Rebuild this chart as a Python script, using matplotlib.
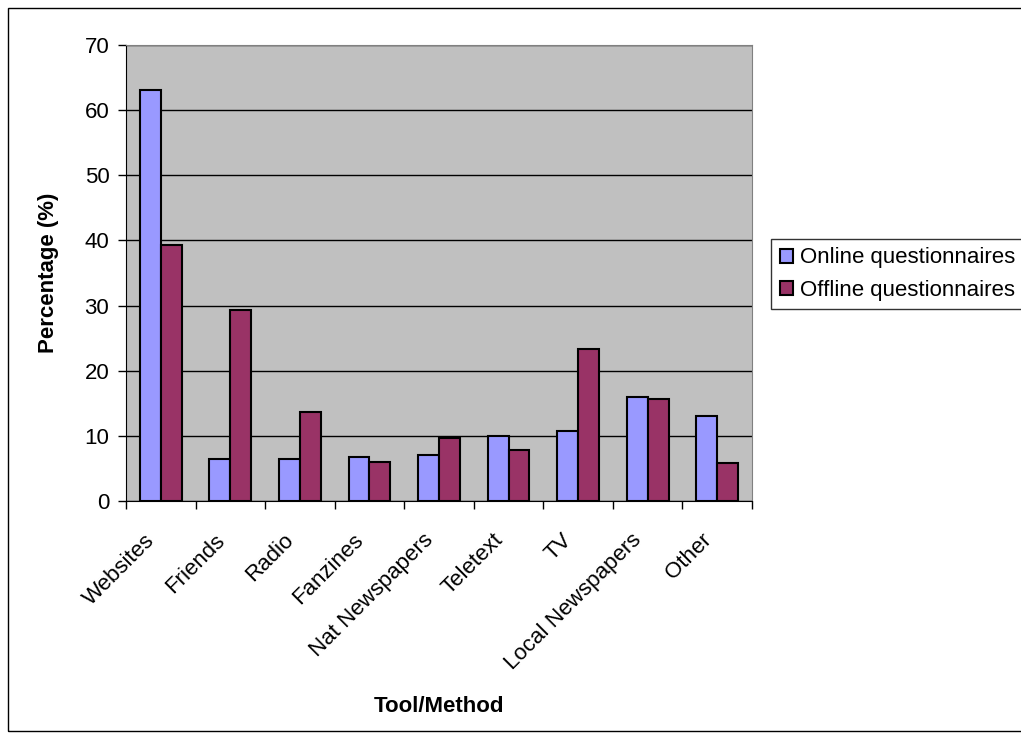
import matplotlib
matplotlib.use("Agg")
import matplotlib.pyplot as plt
import matplotlib.transforms as mtransforms
import numpy as np

CATEGORIES = ["Websites", "Friends", "Radio", "Fanzines", "Nat Newspapers",
              "Teletext", "TV", "Local Newspapers", "Other"]
ONLINE = [63.1, 6.5, 6.5, 6.7, 7.0, 10.0, 10.8, 15.9, 13.1]
OFFLINE = [39.3, 29.3, 13.7, 6.0, 9.7, 7.8, 23.4, 15.6, 5.9]
SERIES = ["Online questionnaires", "Offline questionnaires"]
YTICKS = [0, 10, 20, 30, 40, 50, 60, 70]

plt.rcParams["font.family"] = ["Liberation Sans", "DejaVu Sans"]
FS = 16

fig = plt.figure(figsize=(10.21, 7.4), dpi=100)
# outer chart border
fig.patches.append(plt.Rectangle((8 / 1021, 9 / 740), 1.0, 723 / 740,
                                 transform=fig.transFigure, fill=False,
                                 edgecolor="black", linewidth=1.0))
ax = fig.add_axes([126 / 1021, (740 - 501) / 740, 626 / 1021, 456 / 740])
ax.set_facecolor("#c0c0c0")

x = np.arange(len(CATEGORIES))
w = 0.3
ax.bar(x - w / 2, ONLINE, w, color="#9999ff", edgecolor="black", linewidth=1.5,
       label=SERIES[0], zorder=3)
ax.bar(x + w / 2, OFFLINE, w, color="#993366", edgecolor="black", linewidth=1.5,
       label=SERIES[1], zorder=3)

ax.set_xlim(-0.5, len(CATEGORIES) - 0.5)
ax.set_ylim(0, 70)
ax.set_yticks(YTICKS)
ax.tick_params(axis="y", labelsize=FS, direction="out", length=6, width=1, pad=6)
ax.yaxis.grid(True, color="black", linewidth=1, zorder=0)
ax.set_axisbelow(True)

# category labels centered, ticks at category boundaries
ax.set_xticks(np.arange(len(CATEGORIES) + 1) - 0.5)
ax.set_xticklabels([])
ax.tick_params(axis="x", direction="out", length=6, width=1)
ax.set_xticks(x, minor=True)
ax.set_xticklabels(CATEGORIES, minor=True, rotation=45, ha="right",
                   va="center", rotation_mode="anchor", fontsize=FS)
ax.tick_params(axis="x", which="minor", length=0, pad=26)
shift = mtransforms.ScaledTranslation(-0.09, 0, fig.dpi_scale_trans)
for lbl in ax.get_xticklabels(minor=True):
    lbl.set_transform(lbl.get_transform() + shift)

for s in ["top", "right"]:
    ax.spines[s].set_color("#808080")
for s in ["left", "bottom"]:
    ax.spines[s].set_color("black")

ax.set_ylabel("Percentage (%)", fontsize=FS, fontweight="bold", labelpad=18)
ax.set_xlabel("Tool/Method", fontsize=FS, fontweight="bold", labelpad=16)

leg = ax.legend(loc="center left", bbox_to_anchor=(771 / 1021, (740 - 274) / 740),
                bbox_transform=fig.transFigure, fontsize=FS, frameon=True,
                fancybox=False, edgecolor="black", handlelength=0.6,
                handleheight=0.6, handletextpad=0.3, borderpad=0.4,
                labelspacing=0.5, borderaxespad=0)
leg.get_frame().set_linewidth(1.0)

fig.savefig("out.png", dpi=100)
